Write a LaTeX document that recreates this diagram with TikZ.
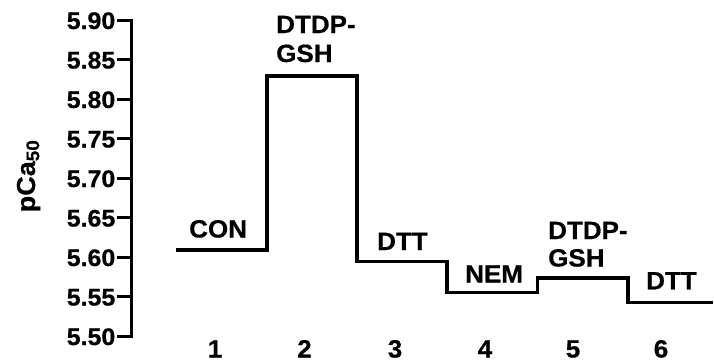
\documentclass[tikz,border=0pt]{standalone}
\usepackage{fontspec}
\setmainfont{Liberation Sans}[FakeStretch=1.04,BoldFeatures={FakeBold=0.6}]
\begin{document}
\begin{tikzpicture}[x=1pt,y=-1pt,
  lbl/.style={inner sep=0pt,font=\fontsize{24}{28}\selectfont\bfseries},
  biglbl/.style={inner sep=0pt,font=\fontsize{25}{29}\selectfont\bfseries},
  ticklbl/.style={lbl,anchor=base east},
  steplbl/.style={biglbl,anchor=base west},
  catlbl/.style={biglbl,anchor=base},
  axisline/.style={line width=3pt,line cap=rect},
  stepline/.style={line width=3.2pt,line join=miter}]
\useasboundingbox (0,0) rectangle (714,362);
% axis
\coordinate (atop) at (131,20);
\coordinate (abot) at (131,336);
\draw[axisline] (atop) -- (abot);
\foreach \v [count=\i from 0] in {5.90,5.85,5.80,5.75,5.70,5.65,5.60,5.55,5.50}{
  \pgfmathsetmacro{\yy}{20+\i*39.5}
  \coordinate (t\i) at (131,\yy);
  \coordinate (s\i) at (117,\yy);
  \draw[line width=3pt] (s\i) -- (t\i);
  \node[ticklbl] (tl\i) at (115.5,\yy+9) {\v};
}
\node[biglbl,rotate=90,anchor=base,font=\fontsize{26}{30}\selectfont\bfseries] (ylab) at (35,176) {pCa\textsubscript{50}};
% step line
\coordinate (p0) at (176,250);
\coordinate (p1) at (267,250);
\coordinate (p2) at (267,76);
\coordinate (p3) at (357,76);
\coordinate (p4) at (357,261.7);
\coordinate (p5) at (447,261.7);
\coordinate (p6) at (447,292.5);
\coordinate (p7) at (537.5,292.5);
\coordinate (p8) at (537.5,278);
\coordinate (p9) at (628,278);
\coordinate (p10) at (628,302.7);
\coordinate (p11) at (713,302.7);
\draw[stepline] (p0) -- (p1) -- (p2) -- (p3) -- (p4) -- (p5) -- (p6) -- (p7) -- (p8) -- (p9) -- (p10) -- (p11);
% step labels
\node[steplbl] (con) at (189,237.5) {CON};
\node[steplbl] (dtdpa) at (276,33) {DTDP-};
\node[steplbl] (gsha) at (276,62) {GSH};
\node[steplbl] (dtta) at (377,250) {DTT};
\node[steplbl] (nem) at (465,282.5) {NEM};
\node[steplbl] (dtdpb) at (548,239) {DTDP-};
\node[steplbl] (gshb) at (548,266.5) {GSH};
\node[steplbl] (dttb) at (646,289.3) {DTT};
% category labels
\foreach \x [count=\k] in {215,304.5,395,485,573,661}{
  \node[catlbl] (c\k) at (\x,357.5) {\k};
}
\end{tikzpicture}
\end{document}
